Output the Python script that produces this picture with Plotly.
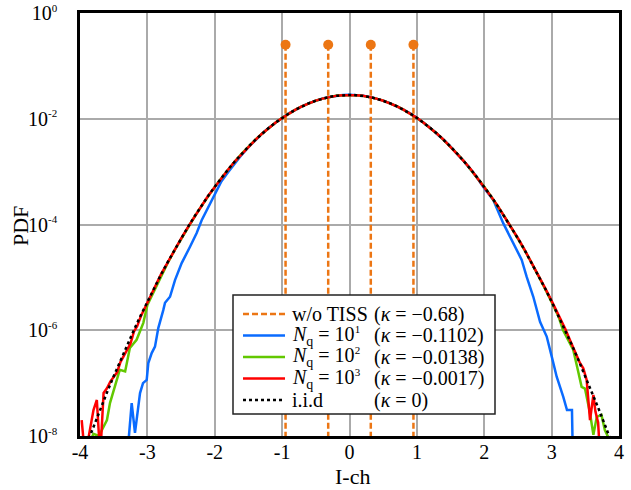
import plotly.graph_objects as go

# ---------------- data ----------------
x_tick_vals = [-4, -3, -2, -1, 0, 1, 2, 3, 4]
x_tick_text = ["-4", "-3", "-2", "-1", "0", "1", "2", "3", "4"]
y_tick_vals = [1e0, 1e-2, 1e-4, 1e-6, 1e-8]
y_tick_exps = ["0", "-2", "-4", "-6", "-8"]

# w/o TISS: discrete levels (stems)
tiss_x = [-0.949, -0.316, 0.316, 0.949]
tiss_p = [0.25, 0.25, 0.25, 0.25]

# i.i.d reference
iid_x = [-3.9, -3.8, -3.7, -3.6, -3.5, -3.4, -3.3, -3.2, -3.1, -3.0,
         -2.9, -2.8, -2.7, -2.6, -2.5, -2.4, -2.3, -2.2, -2.1, -2.0,
         -1.9, -1.8, -1.7, -1.6, -1.5, -1.4, -1.3, -1.2, -1.1, -1.0,
         -0.9, -0.8, -0.7, -0.6, -0.5, -0.4, -0.3, -0.2, -0.1, 0.0,
         0.1, 0.2, 0.3, 0.4, 0.5, 0.6, 0.7, 0.8, 0.9, 1.0,
         1.1, 1.2, 1.3, 1.4, 1.5, 1.6, 1.7, 1.8, 1.9, 2.0,
         2.1, 2.2, 2.3, 2.4, 2.5, 2.6, 2.7, 2.8, 2.9, 3.0,
         3.1, 3.2, 3.3, 3.4, 3.5, 3.6, 3.7, 3.8, 3.9]
iid_p = [7.0e-9, 1.51e-8, 3.20e-8, 6.63e-8, 1.35e-7, 2.69e-7, 5.26e-7, 1.007e-6, 1.892e-6, 3.48e-6,
         6.28e-6, 1.111e-5, 1.925e-5, 3.27e-5, 5.45e-5, 8.89e-5, 1.422e-4, 2.23e-4, 3.43e-4, 5.17e-4,
         7.63e-4, 1.105e-3, 1.568e-3, 2.18e-3, 2.97e-3, 3.97e-3, 5.21e-3, 6.68e-3, 8.41e-3, 1.038e-2,
         1.255e-2, 1.487e-2, 1.728e-2, 1.968e-2, 2.197e-2, 2.404e-2, 2.578e-2, 2.710e-2, 2.793e-2, 2.821e-2,
         2.793e-2, 2.710e-2, 2.578e-2, 2.404e-2, 2.197e-2, 1.968e-2, 1.728e-2, 1.487e-2, 1.255e-2, 1.038e-2,
         8.41e-3, 6.68e-3, 5.21e-3, 3.97e-3, 2.97e-3, 2.18e-3, 1.568e-3, 1.105e-3, 7.63e-4, 5.17e-4,
         3.43e-4, 2.23e-4, 1.422e-4, 8.89e-5, 5.45e-5, 3.27e-5, 1.925e-5, 1.111e-5, 6.28e-6, 3.48e-6,
         1.892e-6, 1.007e-6, 5.26e-7, 2.69e-7, 1.35e-7, 6.63e-8, 3.20e-8, 1.51e-8, 7.0e-9]

core_x = [-1.9, -1.8, -1.7, -1.6, -1.5, -1.4, -1.3, -1.2, -1.1, -1.0,
          -0.9, -0.8, -0.7, -0.6, -0.5, -0.4, -0.3, -0.2, -0.1, 0.0,
          0.1, 0.2, 0.3, 0.4, 0.5, 0.6, 0.7, 0.8, 0.9, 1.0,
          1.1, 1.2, 1.3, 1.4, 1.5, 1.6, 1.7, 1.8, 1.9]

# N_q = 10^3
nq3_x = [-3.975, -3.925, -3.80, -3.75, -3.70, -3.65, -3.60, -3.55, -3.50, -3.45,
         -3.40, -3.35, -3.30, -3.25, -3.20, -3.15, -3.10, -3.0, -2.9, -2.8,
         -2.7, -2.6, -2.5, -2.4, -2.3, -2.2, -2.1, -2.0] + core_x + \
        [2.0, 2.1, 2.2, 2.3, 2.4, 2.5, 2.6, 2.7, 2.8, 2.9,
         3.0, 3.1, 3.2, 3.27, 3.35, 3.42, 3.47, 3.52, 3.57, 3.62,
         3.65, 3.69, 3.72]
nq3_p = [2.0e-8, 4e-9, 3.1e-8, 4.8e-8, 4e-9, 6.5e-8, 8.0e-8, 1.07e-7, 1.3e-7, 1.6e-7,
         2.5e-7, 3.3e-7, 4.4e-7, 5.6e-7, 9.4e-7, 1.2e-6, 1.8e-6, 3.4e-6, 6.1e-6, 1.13e-5,
         1.9e-5, 3.3e-5, 5.4e-5, 8.8e-5, 1.43e-4, 2.2e-4, 3.45e-4, 5.1e-4,
         7.7e-4, 1.10e-3, 1.57e-3, 2.17e-3, 2.98e-3, 3.96e-3, 5.22e-3, 6.67e-3, 8.43e-3, 1.036e-2,
         1.256e-2, 1.485e-2, 1.730e-2, 1.966e-2, 2.199e-2, 2.402e-2, 2.580e-2, 2.708e-2, 2.795e-2, 2.820e-2,
         2.790e-2, 2.712e-2, 2.576e-2, 2.405e-2, 2.195e-2, 1.970e-2, 1.726e-2, 1.489e-2, 1.253e-2, 1.040e-2,
         8.40e-3, 6.69e-3, 5.20e-3, 3.98e-3, 2.96e-3, 2.19e-3, 1.565e-3, 1.108e-3, 7.6e-4,
         5.2e-4, 3.4e-4, 2.25e-4, 1.43e-4, 9.0e-5, 5.5e-5, 3.3e-5, 1.95e-5, 1.13e-5, 6.4e-6,
         3.6e-6, 2.0e-6, 1.08e-6, 6.6e-7, 4.0e-7, 2.4e-7, 1.9e-7, 1.15e-7, 2.0e-8, 6.0e-8,
         2.9e-8, 1.8e-8, 4e-9]

# N_q = 10^2
nq2_x = [-3.87, -3.80, -3.72, -3.65, -3.60, -3.555, -3.48, -3.41, -3.33, -3.26,
         -3.16, -3.11, -3.06, -3.0, -2.9, -2.8, -2.7, -2.6, -2.5, -2.4,
         -2.3, -2.2, -2.1, -2.0] + core_x + \
        [2.0, 2.1, 2.2, 2.3, 2.4, 2.5, 2.6, 2.7, 2.8, 2.9,
         3.0, 3.1, 3.17, 3.25, 3.32, 3.38, 3.445, 3.495, 3.57, 3.62,
         3.67, 3.74, 3.79, 3.84, 3.89]
nq2_p = [7e-9, 1.1e-8, 1.0e-8, 1.5e-8, 2.0e-8, 4.2e-8, 8.5e-8, 1.78e-7, 1.66e-7, 4.6e-7,
         6.6e-7, 9.3e-7, 1.38e-6, 3.0e-6, 5.6e-6, 1.05e-5, 1.85e-5, 3.2e-5, 5.3e-5, 8.7e-5,
         1.40e-4, 2.2e-4, 3.4e-4, 5.15e-4,
         7.6e-4, 1.102e-3, 1.566e-3, 2.182e-3, 2.968e-3, 3.972e-3, 5.208e-3, 6.683e-3, 8.405e-3, 1.039e-2,
         1.254e-2, 1.488e-2, 1.727e-2, 1.969e-2, 2.196e-2, 2.405e-2, 2.577e-2, 2.711e-2, 2.792e-2, 2.822e-2,
         2.794e-2, 2.709e-2, 2.579e-2, 2.403e-2, 2.198e-2, 1.967e-2, 1.729e-2, 1.486e-2, 1.256e-2, 1.037e-2,
         8.42e-3, 6.67e-3, 5.22e-3, 3.96e-3, 2.97e-3, 2.17e-3, 1.57e-3, 1.10e-3, 7.6e-4,
         5.15e-4, 3.42e-4, 2.22e-4, 1.42e-4, 8.8e-5, 5.4e-5, 3.25e-5, 1.9e-5, 1.1e-5, 6.2e-6,
         3.4e-6, 1.85e-6, 1.0e-6, 6.5e-7, 4.3e-7, 2.0e-7, 8.5e-8, 7.9e-8, 2.7e-8, 1.05e-8,
         2.3e-8, 2.5e-8, 1.3e-8, 9.5e-9, 6e-9]

# N_q = 10^1
nq1_x = [-3.30, -3.28, -3.233, -3.184, -3.109, -3.065, -3.010, -2.986, -2.936, -2.887,
         -2.838, -2.813, -2.764, -2.738, -2.664, -2.590, -2.491, -2.367, -2.268, -2.194,
         -2.119, -2.045] + core_x + \
        [1.986, 2.134, 2.283, 2.431, 2.556, 2.630, 2.728, 2.828, 2.927, 3.001,
         3.075, 3.173, 3.228, 3.302, 3.317]
nq1_p = [3e-9, 8e-9, 4.2e-8, 1.15e-8, 6.5e-8, 1.0e-7, 1.15e-7, 2.4e-7, 3.7e-7, 4.9e-7,
         1.1e-6, 1.38e-6, 2.4e-6, 3.3e-6, 4.3e-6, 8.9e-6, 1.86e-5, 3.8e-5, 6.9e-5, 1.2e-4,
         1.86e-4, 2.9e-4,
         6.6e-4, 9.8e-4, 1.45e-3, 2.08e-3, 2.90e-3, 3.92e-3, 5.20e-3, 6.70e-3, 8.45e-3, 1.042e-2,
         1.262e-2, 1.495e-2, 1.738e-2, 1.978e-2, 2.208e-2, 2.414e-2, 2.588e-2, 2.720e-2, 2.803e-2, 2.832e-2,
         2.803e-2, 2.720e-2, 2.588e-2, 2.414e-2, 2.206e-2, 1.976e-2, 1.736e-2, 1.494e-2, 1.261e-2, 1.043e-2,
         8.44e-3, 6.70e-3, 5.22e-3, 3.97e-3, 2.96e-3, 2.17e-3, 1.56e-3, 1.09e-3, 7.5e-4,
         5.1e-4, 2.9e-4, 1.05e-4, 4.5e-5, 2.14e-5, 1.02e-5, 4.3e-6, 1.45e-6, 7.6e-7, 3.2e-7,
         1.32e-7, 5.5e-8, 3.1e-8, 3.1e-8, 3e-9]

nq_exps = ["1", "2", "3"]
legend_kappa = ["(<i>κ</i> = −0.68)", "(<i>κ</i> = −0.1102)", "(<i>κ</i> = −0.0138)",
                "(<i>κ</i> = −0.0017)", "(<i>κ</i> = 0)"]

# ---------------- styling ----------------
ORANGE = "#EC7614"
BLUE = "#0A6BFF"
GREEN = "#62C800"
RED = "#FF0000"
FONT = "Liberation Serif"
Y_FLOOR = 1e-9  # stems run down past the bottom of the axis

W, H = 631, 490
ML, MR, MT, MB = 80, 12, 13, 54
PW, PH = W - ML - MR, H - MT - MB

def px_to_paper(px, py):
    return (px - ML) / PW, (H - MB - py) / PH

SUP = '<sup><span style="font-size:11px">%s</span></sup>'
SUB = '<sub><span style="font-size:14px">%s</span></sub>'
y_tick_text = ["10" + SUP % e for e in y_tick_exps]
legend_labels = ["w/o TISS"] + ["<i>N</i>" + SUB % "q" + " = 10" + SUP % e for e in nq_exps] + ["i.i.d"]

styles = [
    dict(color=ORANGE, width=2.5, dash="6px,3px"),
    dict(color=BLUE, width=2.5),
    dict(color=GREEN, width=2.5),
    dict(color=RED, width=2.5),
    dict(color="black", width=2.5, dash="3px,3px"),
]

fig = go.Figure()

stem_x, stem_y = [], []
for xv, pv in zip(tiss_x, tiss_p):
    stem_x += [xv, xv, None]
    stem_y += [pv, Y_FLOOR, None]
series = [(stem_x, stem_y), (nq1_x, nq1_p), (nq2_x, nq2_p), (nq3_x, nq3_p), (iid_x, iid_p)]
names = ["w/o TISS", "N_q = 10^1", "N_q = 10^2", "N_q = 10^3", "i.i.d"]

fig.add_trace(go.Scatter(x=stem_x, y=stem_y, mode="lines", name=names[0],
                         line=styles[0], showlegend=False))
fig.add_trace(go.Scatter(x=tiss_x, y=tiss_p, mode="markers", showlegend=False,
                         marker=dict(color=ORANGE, size=10), name=names[0]))
for (sx, sy), st, nm in list(zip(series, styles, names))[1:]:
    fig.add_trace(go.Scatter(x=sx, y=sy, mode="lines", name=nm, line=st, showlegend=False))

# ---- legend box drawn in paper coordinates ----
box_l, box_t, box_r, box_b = 233, 295, 495, 414
x0, y0 = px_to_paper(box_l, box_b)
x1, y1 = px_to_paper(box_r, box_t)
shapes = [dict(type="rect", xref="paper", yref="paper", x0=x0, y0=y0, x1=x1, y1=y1,
               fillcolor="white", line=dict(color="#222222", width=1.5), layer="above")]
annotations = []
row_y0, row_dy = 314, 21.5
for i, (lab, kap, st) in enumerate(zip(legend_labels, legend_kappa, styles)):
    ry = row_y0 + i * row_dy
    sx0, sy = px_to_paper(243, ry)
    sx1, _ = px_to_paper(285, ry)
    shapes.append(dict(type="line", xref="paper", yref="paper", x0=sx0, x1=sx1, y0=sy, y1=sy,
                       line=st, layer="above"))
    tx, ty = px_to_paper(291, ry)
    annotations.append(dict(xref="paper", yref="paper", x=tx, y=ty, text=lab, showarrow=False,
                            xanchor="left", yanchor="middle", borderpad=0,
                            font=dict(family=FONT, size=20, color="black")))
    kx, _ = px_to_paper(373, ry)
    annotations.append(dict(xref="paper", yref="paper", x=kx, y=ty, text=kap, showarrow=False,
                            xanchor="left", yanchor="middle", borderpad=0,
                            font=dict(family=FONT, size=20, color="black")))

# axis titles
tx, ty = px_to_paper(21, 226)
annotations.append(dict(xref="paper", yref="paper", x=tx, y=ty, text="PDF", textangle=-90,
                        showarrow=False, xanchor="center", yanchor="middle", borderpad=0,
                        font=dict(family=FONT, size=22, color="black")))
tx, ty = px_to_paper(352, 490)
annotations.append(dict(xref="paper", yref="paper", x=tx, y=ty, text="I-ch",
                        showarrow=False, xanchor="center", yanchor="bottom", borderpad=0,
                        font=dict(family=FONT, size=22, color="black")))

fig.update_layout(
    width=W, height=H,
    margin=dict(l=ML, r=MR, t=MT, b=MB),
    paper_bgcolor="white", plot_bgcolor="white",
    font=dict(family=FONT, size=20, color="black"),
    showlegend=False,
    shapes=shapes, annotations=annotations,
)
fig.update_xaxes(
    range=[-4, 4], tickmode="array", tickvals=x_tick_vals, ticktext=x_tick_text,
    showgrid=True, gridcolor="#aaaaaa", gridwidth=1.5,
    showline=True, linecolor="black", linewidth=2.5, mirror=True,
    ticks="", zeroline=False, ticklabelstandoff=0, automargin=False,
    ticklabeloverflow="allow",
    tickfont=dict(family=FONT, size=20),
)
try:
    fig.update_xaxes(ticklabelstandoff=-4)
except ValueError:
    pass
fig.update_yaxes(
    type="log", range=[-8, 0], tickmode="array", tickvals=y_tick_vals, ticktext=y_tick_text,
    showgrid=True, gridcolor="#aaaaaa", gridwidth=1.5,
    showline=True, linecolor="black", linewidth=2.5, mirror=True,
    ticks="", zeroline=False, ticklabelstandoff=16, automargin=False,
    ticklabeloverflow="allow",
    tickfont=dict(family=FONT, size=20),
)

fig.write_html("out.html")
